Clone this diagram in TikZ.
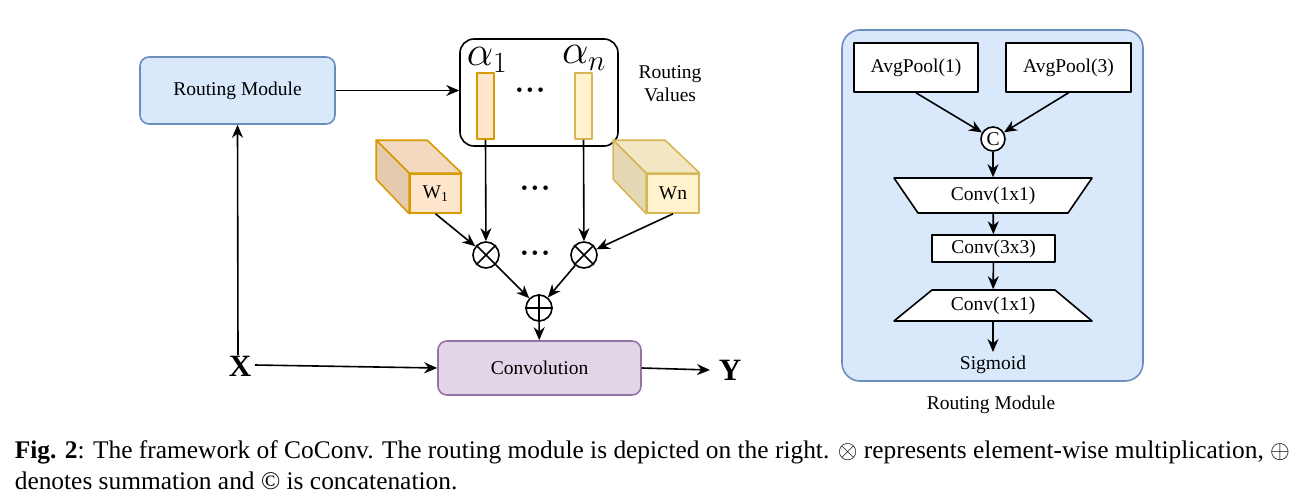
\documentclass[tikz,border=0pt]{standalone}
\usepackage{fix-cm}
\usepackage{fontspec}
\setmainfont{Liberation Serif}
\usetikzlibrary{arrows.meta}
\definecolor{rmFill}{HTML}{DAE8FC}
\definecolor{rmLine}{HTML}{6C8EBF}
\definecolor{cvFill}{HTML}{E1D5E7}
\definecolor{cvLine}{HTML}{9673A6}
\definecolor{orFill}{HTML}{FFE6CC}
\definecolor{orTop}{HTML}{F3D9BF}
\definecolor{orSide}{HTML}{E6CAAE}
\definecolor{orLine}{HTML}{D79B00}
\definecolor{ylFill}{HTML}{FFF2CC}
\definecolor{ylTop}{HTML}{F3E6C2}
\definecolor{ylSide}{HTML}{E5D9B5}
\definecolor{ylLine}{HTML}{D6B656}
\newcommand{\tridots}{\textbullet\hspace{4pt}\textbullet\hspace{4pt}\textbullet}
\tikzset{
	txt/.style={font=\fontsize{19.5}{23}\selectfont},
	rmbox/.style={txt,draw=rmLine,fill=rmFill,rounded corners=9,minimum width=195,minimum height=67},
	cvbox/.style={txt,draw=cvLine,fill=cvFill,rounded corners=9,minimum width=203,minimum height=54},
	orbar/.style={draw=orLine,fill=orFill,minimum width=17,minimum height=66,inner sep=0},
	ylbar/.style={draw=ylLine,fill=ylFill,minimum width=17,minimum height=66,inner sep=0},
	opcirc/.style={draw,circle,fill=white,minimum size=26,inner sep=0},
	plainbox/.style={txt,draw,fill=white,inner sep=0},
	trapnode/.style={txt,inner sep=0,minimum width=150},
	dotsnode/.style={font=\fontsize{19}{20}\selectfont,inner sep=0},
	alphanode/.style={font=\fontsize{42}{44}\selectfont,inner sep=0},
	bignode/.style={font=\fontsize{31}{33}\selectfont\bfseries,inner sep=0}
}
\begin{document}
\begin{tikzpicture}[x=1pt,y=-1pt,>={Stealth[length=13pt,width=11pt]},line width=1.6pt,line join=round]
	\useasboundingbox (0,0) rectangle (1304,503);
	\node[rmbox] (routing) at (237.5,90.5) {Routing Module};
	\node[draw,rounded corners=14,minimum width=158,minimum height=107] (values) at (539,92.5) {};
	\node[orbar] (a1) at (485.5,106) {};
	\node[ylbar] (an) at (583.5,106) {};
	\node[alphanode] (la1) at (487,60) {$\alpha_1$};
	\node[alphanode] (lan) at (584,58) {$\alpha_n$};
	\node[dotsnode] (d1) at (530,92) {\tridots};
	\node[txt,align=center] (vlabel) at (670,83.5) {Routing\\Values};
	\node[txt,draw=orLine,fill=orFill,minimum width=51,minimum height=39,inner sep=0] (w1) at (435.5,193.5) {W\textsubscript{1}};
	\draw[draw=orLine,fill=orTop] (w1.north west) -- ++(-33,-33) -- ++(51,0) -- (w1.north east) -- cycle;
	\draw[draw=orLine,fill=orSide] (w1.north west) -- ++(-33,-33) -- ++(0,39) -- (w1.south west) -- cycle;
	\node[txt,draw=ylLine,fill=ylFill,minimum width=52,minimum height=39,inner sep=0] (wn) at (673,193.5) {Wn};
	\draw[draw=ylLine,fill=ylTop] (wn.north west) -- ++(-33,-33) -- ++(52,0) -- (wn.north east) -- cycle;
	\draw[draw=ylLine,fill=ylSide] (wn.north west) -- ++(-33,-33) -- ++(0,39) -- (wn.south west) -- cycle;
	\node[dotsnode] (d2) at (535,190) {\tridots};
	\node[opcirc] (m1) at (486,255) {};
	\node[opcirc] (m2) at (584,255) {};
	\draw (m1.north west) -- (m1.south east) (m1.north east) -- (m1.south west);
	\draw (m2.north west) -- (m2.south east) (m2.north east) -- (m2.south west);
	\node[dotsnode] (d3) at (535,255) {\tridots};
	\node[opcirc] (sum) at (539,308) {};
	\draw (sum.north) -- (sum.south) (sum.west) -- (sum.east);
	\node[cvbox] (conv) at (539.5,368) {Convolution};
	\node[bignode] (x) at (240,366) {X};
	\node[bignode] (y) at (730,370) {Y};
	\draw[->] (routing.east) -- (routing.east -| values.west);
	\draw[->] (a1.south) -- (m1);
	\draw[->] (an.south) -- (m2);
	\draw[->] (w1.south) -- (m1);
	\draw[->] (wn.south) -- (m2);
	\draw[->] (m1) -- (sum);
	\draw[->] (m2) -- (sum);
	\draw[->] (sum) -- (conv);
	\draw[->] ([xshift=-2]x.north) -- (routing.south);
	\draw[->] ([yshift=1]x.east) ++(3,0) -- (conv.west);
	\draw[->] (conv.east) -- ([xshift=-8]y.west);
	\node[draw=rmLine,fill=rmFill,rounded corners=18,minimum width=301,minimum height=351] (panel) at (992.5,205.5) {};
	\node[plainbox,minimum width=124,minimum height=49] (ap1) at (916,67.5) {AvgPool(1)};
	\node[plainbox,minimum width=125,minimum height=49] (ap3) at (1068.5,67.5) {AvgPool(3)};
	\node[txt,draw,circle,fill=white,minimum size=24,inner sep=0] (cat) at (993,139) {C};
	\draw[fill=white] (894,178) -- (1092,178) -- (1068,213) -- (918,213) -- cycle;
	\node[trapnode,minimum height=35] (conv1) at (993,195.5) {Conv(1x1)};
	\node[plainbox,minimum width=123,minimum height=27] (conv3) at (993.5,248.5) {Conv(3x3)};
	\draw[fill=white] (932,290) -- (1055,290) -- (1092,321) -- (894,321) -- cycle;
	\node[trapnode,minimum height=31] (conv2) at (993,305.5) {Conv(1x1)};
	\node[txt] (sig) at (993,365) {Sigmoid};
	\node[txt] (plabel) at (991,405) {Routing Module};
	\draw[->] (ap1.south) -- (cat);
	\draw[->] (ap3.south) -- (cat);
	\draw[->] (cat) -- (conv1);
	\draw[->] (conv1) -- (conv3);
	\draw[->] (conv3) -- (conv2);
	\draw[->] (conv2) -- (sig);
	\node[anchor=north west,align=left,inner sep=0,font=\fontsize{25.4}{31}\selectfont] (caption) at (14,440) {\textbf{Fig. 2}: The framework of CoConv. The routing module is depicted on the right. $\otimes$ represents element-wise multiplication, $\oplus$\\denotes summation and © is concatenation.};
\end{tikzpicture}
\end{document}
